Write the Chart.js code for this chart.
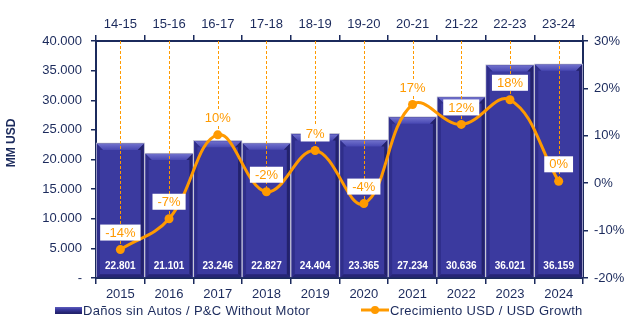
<!DOCTYPE html>
<html>
<head>
<meta charset="utf-8">
<script src="https://cdn.jsdelivr.net/npm/chart.js@4/dist/chart.umd.min.js"></script>
<style>
html,body{margin:0;padding:0;background:#fff;}
#wrap{width:631px;height:324px;position:relative;}
</style>
</head>
<body>
<div id="wrap"><canvas id="c" width="631" height="324"></canvas></div>
<script>
const years = ['2015','2016','2017','2018','2019','2020','2021','2022','2023','2024'];
const periods = ['14-15','15-16','16-17','17-18','18-19','19-20','20-21','21-22','22-23','23-24'];
const premiums = [22801,21101,23246,22827,24404,23365,27234,30636,36021,36159];
const growth = [-14.0,-7.5,10.2,-1.8,6.9,-4.3,16.6,12.4,17.6,0.4];

const NAVY = '#1b2a5c';
const ORANGE = '#ff9a00';
const BAR = '#3b3a9f';
const FONT = 'Liberation Sans, Arial, sans-serif';

function fmtThousands(v){
  if (v === 0) return '-';
  return String(v).replace(/\B(?=(\d{3})+(?!\d))/g, '.');
}

const decor = {
  id: 'decor',
  afterDatasetDraw(chart, args) {
    if (args.index !== 0) return;
    const ctx = chart.ctx;
    const meta = chart.getDatasetMeta(0);
    ctx.save();
    meta.data.forEach((el) => {
      const w = el.width;
      const l = el.x - w / 2 + 1, r = el.x + w / 2 - 1;
      const t = el.y + 1, b = el.base;
      const bt = 6, bs = 3;
      const g = ctx.createLinearGradient(0, t, 0, t + bt);
      g.addColorStop(0, '#7070cc');
      g.addColorStop(1, '#4848b2');
      ctx.fillStyle = g;
      ctx.beginPath();
      ctx.moveTo(l, t); ctx.lineTo(r, t); ctx.lineTo(r - bt, t + bt); ctx.lineTo(l + bt, t + bt); ctx.closePath();
      ctx.fill();
      ctx.fillStyle = '#2f2e8a';
      ctx.beginPath();
      ctx.moveTo(l, t); ctx.lineTo(l + bt, t + bt); ctx.lineTo(l + bs, t + bt); ctx.lineTo(l + bs, b - bs); ctx.lineTo(l, b); ctx.closePath();
      ctx.fill();
      ctx.fillStyle = '#23226c';
      ctx.beginPath();
      ctx.moveTo(r, t); ctx.lineTo(r - bt, t + bt); ctx.lineTo(r - bs, t + bt); ctx.lineTo(r - bs, b - bs); ctx.lineTo(r, b); ctx.closePath();
      ctx.fill();
      ctx.fillStyle = '#262576';
      ctx.beginPath();
      ctx.moveTo(l, b); ctx.lineTo(r, b); ctx.lineTo(r - bs, b - bs); ctx.lineTo(l + bs, b - bs); ctx.closePath();
      ctx.fill();
    });
    ctx.fillStyle = '#ffffff';
    ctx.font = 'bold 10px ' + FONT;
    ctx.textAlign = 'center';
    ctx.textBaseline = 'middle';
    meta.data.forEach((el, i) => {
      ctx.fillText(fmtThousands(premiums[i]), el.x, chart.chartArea.bottom - 12);
    });
    const lmeta = chart.getDatasetMeta(1);
    ctx.strokeStyle = ORANGE;
    ctx.lineWidth = 1;
    ctx.setLineDash([3, 2]);
    lmeta.data.forEach((pt) => {
      const x = Math.round(pt.x) + 0.5;
      ctx.beginPath();
      ctx.moveTo(x, chart.chartArea.top);
      ctx.lineTo(x, pt.y);
      ctx.stroke();
    });
    ctx.restore();
  },
  afterDatasetsDraw(chart) {
    const ctx = chart.ctx;
    const lmeta = chart.getDatasetMeta(1);
    ctx.save();
    ctx.font = '13px ' + FONT;
    ctx.textAlign = 'center';
    ctx.textBaseline = 'middle';
    lmeta.data.forEach((pt, i) => {
      const txt = Math.round(growth[i]) + '%';
      const tw = ctx.measureText(txt).width;
      const cy = pt.y - 17;
      ctx.fillStyle = '#ffffff';
      ctx.fillRect(pt.x - tw / 2 - 5, cy - 8, tw + 10, 16);
      ctx.fillStyle = ORANGE;
      ctx.fillText(txt, pt.x, cy + 0.5);
    });
    // legend
    const ly = 310;
    const g = ctx.createLinearGradient(0, ly - 4, 0, ly + 3);
    g.addColorStop(0, '#6a6ac8');
    g.addColorStop(0.5, BAR);
    g.addColorStop(1, '#23226c');
    ctx.fillStyle = g;
    ctx.fillRect(55, ly - 3, 27, 7);
    ctx.letterSpacing = '0.3px';
    ctx.fillStyle = NAVY;
    ctx.textAlign = 'left';
    ctx.fillText('Daños sin Autos / P&C Without Motor', 83, ly + 1);
    ctx.strokeStyle = ORANGE;
    ctx.lineWidth = 3;
    ctx.beginPath();
    ctx.moveTo(361, ly); ctx.lineTo(389, ly); ctx.stroke();
    ctx.fillStyle = ORANGE;
    ctx.beginPath(); ctx.arc(375, ly, 4, 0, Math.PI * 2); ctx.fill();
    ctx.fillStyle = NAVY;
    ctx.fillText('Crecimiento USD / USD Growth', 390, ly + 1);
    ctx.restore();
    // y-axis title
    ctx.save();
    ctx.translate(12, 143);
    ctx.rotate(-Math.PI / 2);
    ctx.font = 'bold 12px ' + FONT;
    ctx.fillStyle = NAVY;
    ctx.textAlign = 'center';
    ctx.textBaseline = 'middle';
    ctx.fillText('MM USD', 0, 0);
    ctx.restore();
  }
};

const tickFont = { family: FONT, size: 13 };

new Chart(document.getElementById('c'), {
  data: {
    labels: years,
    datasets: [
      {
        type: 'bar',
        label: 'Daños sin Autos / P&C Without Motor',
        data: premiums,
        backgroundColor: BAR,
        borderColor: '#c4c4d4',
        borderWidth: 1,
        barPercentage: 1,
        categoryPercentage: 1,
        yAxisID: 'y',
        xAxisID: 'x',
        order: 1
      },
      {
        type: 'line',
        label: 'Crecimiento USD / USD Growth',
        data: growth,
        borderColor: ORANGE,
        backgroundColor: ORANGE,
        borderWidth: 3,
        pointRadius: 4.5,
        pointBackgroundColor: ORANGE,
        pointBorderWidth: 0,
        tension: 0.4,
        yAxisID: 'y1',
        xAxisID: 'x',
        order: 0
      }
    ]
  },
  options: {
    responsive: false,
    animation: false,
    events: [],
    layout: { padding: { left: 0, right: 0, top: 0, bottom: 24 } },
    plugins: { legend: { display: false }, tooltip: { enabled: false } },
    scales: {
      x: {
        type: 'category',
        position: 'bottom',
        offset: true,
        grid: { offset: true, drawOnChartArea: false, color: NAVY, tickLength: 6, lineWidth: 1.5 },
        border: { color: NAVY, width: 2 },
        ticks: { color: NAVY, font: tickFont, padding: 3, maxRotation: 0, autoSkip: false },
        afterFit(s) { s.height = 22; }
      },
      x2: {
        type: 'category',
        position: 'top',
        labels: periods,
        offset: true,
        grid: { offset: true, drawOnChartArea: false, color: NAVY, tickLength: 6, lineWidth: 1.5 },
        border: { color: NAVY, width: 2 },
        ticks: { color: NAVY, font: tickFont, padding: 3, maxRotation: 0, autoSkip: false },
        afterFit(s) { s.height = 41; }
      },
      y: {
        position: 'left',
        min: 0, max: 40000,
        grid: { drawOnChartArea: false, color: NAVY, tickLength: 5, lineWidth: 1.5 },
        border: { color: NAVY, width: 2 },
        ticks: { stepSize: 5000, color: NAVY, font: tickFont, padding: 9, callback: (v) => fmtThousands(v) },
        afterFit(s) { s.width = 96; }
      },
      y1: {
        position: 'right',
        min: -20, max: 30,
        grid: { drawOnChartArea: false, color: NAVY, tickLength: 5, lineWidth: 1.5 },
        border: { color: NAVY, width: 2 },
        ticks: { stepSize: 10, color: NAVY, font: tickFont, padding: 6, callback: (v) => v + '%' },
        afterFit(s) { s.width = 48; }
      }
    }
  },
  plugins: [decor]
});
</script>
</body>
</html>
